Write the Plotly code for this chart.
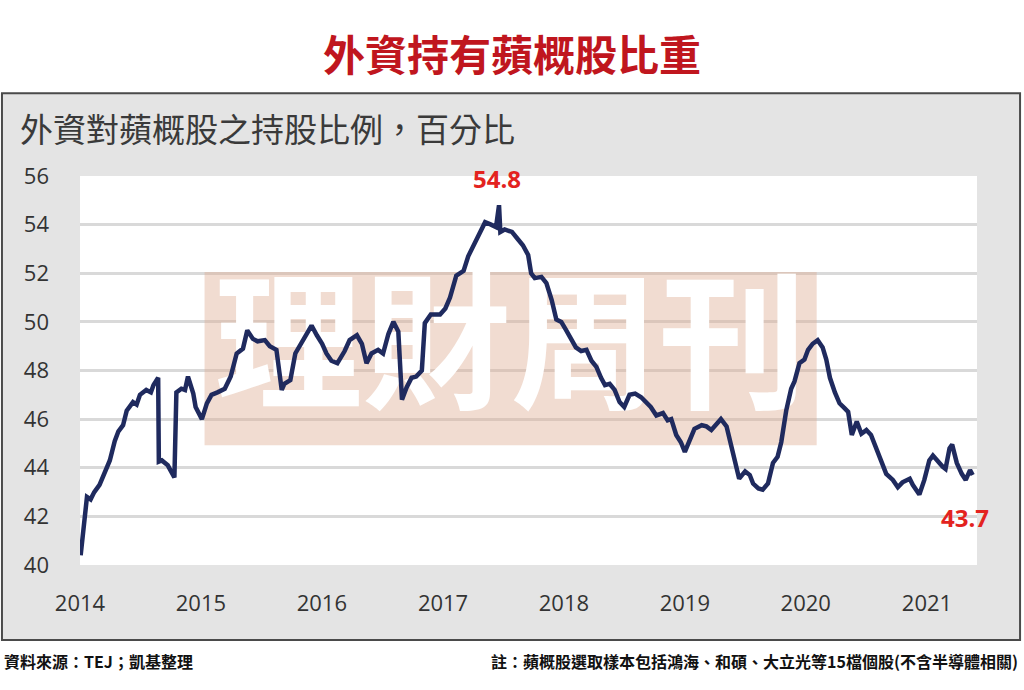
import plotly.graph_objects as go

# 外資對蘋概股之持股比例 (%)
dates = [
    "2014-01-03", "2014-01-22", "2014-02-02", "2014-02-13", "2014-03-01", "2014-03-18",
    "2014-04-01", "2014-04-16", "2014-04-27", "2014-05-11", "2014-05-22", "2014-06-10",
    "2014-06-21", "2014-07-01", "2014-07-20", "2014-08-03", "2014-08-11", "2014-08-25",
    "2014-08-27", "2014-09-05", "2014-09-23", "2014-10-13", "2014-10-19", "2014-11-03",
    "2014-11-14", "2014-11-23", "2014-12-09", "2014-12-16",
    "2015-01-04", "2015-01-19", "2015-02-02", "2015-02-20", "2015-03-14", "2015-04-01",
    "2015-04-19", "2015-05-08", "2015-05-21", "2015-06-07", "2015-06-21", "2015-07-13",
    "2015-07-28", "2015-08-17", "2015-09-02", "2015-09-10", "2015-09-28", "2015-10-13",
    "2015-10-31", "2015-11-14", "2015-12-01", "2015-12-17",
    "2016-01-02", "2016-01-15", "2016-01-30", "2016-02-17", "2016-03-10", "2016-03-25",
    "2016-04-16", "2016-05-01", "2016-05-15", "2016-05-30", "2016-06-19", "2016-07-04",
    "2016-07-20", "2016-08-04", "2016-08-19", "2016-08-30", "2016-09-13", "2016-09-28",
    "2016-10-12", "2016-10-29", "2016-11-07", "2016-11-25", "2016-12-23",
    "2017-01-08", "2017-01-22", "2017-02-10", "2017-03-04", "2017-03-18", "2017-04-06",
    "2017-04-27", "2017-05-08", "2017-05-26", "2017-06-10", "2017-06-19", "2017-06-23",
    "2017-07-06", "2017-07-28", "2017-08-15", "2017-08-30", "2017-09-15", "2017-09-24",
    "2017-10-05", "2017-10-25", "2017-11-09", "2017-11-25", "2017-12-09", "2017-12-24",
    "2018-01-08", "2018-01-22", "2018-02-06", "2018-02-22", "2018-03-10", "2018-03-25",
    "2018-04-09", "2018-04-23", "2018-05-05", "2018-05-19", "2018-06-03", "2018-06-18",
    "2018-07-02", "2018-07-18", "2018-08-04", "2018-08-22", "2018-09-06", "2018-09-20",
    "2018-10-07", "2018-10-27", "2018-11-10", "2018-11-21", "2018-12-06", "2018-12-20",
    "2019-01-01", "2019-01-12", "2019-01-30", "2019-02-21", "2019-03-07", "2019-03-22",
    "2019-04-05", "2019-04-20", "2019-05-07", "2019-05-21", "2019-06-07", "2019-06-14",
    "2019-07-02", "2019-07-16", "2019-07-26", "2019-08-11", "2019-08-24", "2019-09-09",
    "2019-09-24", "2019-10-08", "2019-10-19", "2019-11-03", "2019-11-18", "2019-11-28",
    "2019-12-13", "2019-12-28",
    "2020-01-08", "2020-01-22", "2020-02-06", "2020-02-21", "2020-03-03", "2020-03-14",
    "2020-03-29", "2020-04-12", "2020-04-27", "2020-05-08", "2020-05-19", "2020-06-03",
    "2020-06-17", "2020-07-02", "2020-07-16", "2020-08-02", "2020-08-19", "2020-08-31",
    "2020-09-20", "2020-10-05", "2020-10-19", "2020-11-10", "2020-11-19", "2020-12-09",
    "2020-12-24",
    "2021-01-08", "2021-01-19", "2021-02-03", "2021-02-17", "2021-02-26", "2021-03-10",
    "2021-03-18", "2021-04-01", "2021-04-16", "2021-04-28", "2021-05-11", "2021-05-19",
]
share = [
    40.4, 42.8, 42.7, 43.0, 43.3, 43.8,
    44.3, 45.1, 45.5, 45.75, 46.35, 46.7,
    46.6, 47.0, 47.2, 47.1, 47.4, 47.7,
    44.25, 44.3, 44.1, 43.6, 47.1, 47.25,
    47.2, 47.75, 47.05, 46.5,
    46.0, 46.65, 47.0, 47.1, 47.25, 47.75,
    48.7, 48.9, 49.65, 49.3, 49.2, 49.25,
    49.0, 48.85, 47.2, 47.45, 47.6, 48.7,
    49.1, 49.4, 49.85, 49.45,
    49.1, 48.7, 48.4, 48.3, 48.8, 49.25,
    49.45, 49.1, 48.3, 48.7, 48.85, 48.7,
    49.5, 50.0, 49.6, 46.8, 47.3, 47.7,
    47.75, 48.0, 49.95, 50.3, 50.3,
    50.55, 51.0, 51.9, 52.1, 52.7, 53.2,
    53.85, 54.1, 54.0, 53.9, 54.8, 53.7,
    53.8, 53.7, 53.4, 53.15, 52.75, 52.0,
    51.8, 51.85, 51.6, 50.9, 50.1, 50.0,
    49.65, 49.3, 48.95, 48.8, 48.85, 48.4,
    48.15, 47.7, 47.4, 47.45, 47.2, 46.7,
    46.5, 47.0, 47.05, 46.9, 46.7, 46.5,
    46.15, 46.25, 45.95, 46.0, 45.35, 45.05,
    44.65, 45.05, 45.6, 45.75, 45.7, 45.55,
    45.75, 46.0, 45.7, 44.9, 43.9, 43.55,
    43.85, 43.7, 43.35, 43.15, 43.1, 43.35,
    44.2, 44.45, 45.05, 46.35, 47.25, 47.55,
    48.3, 48.45,
    48.85, 49.1, 49.25, 48.95, 48.45, 47.7,
    47.1, 46.65, 46.45, 46.3, 45.35, 45.9,
    45.4, 45.55, 45.35, 44.8, 44.25, 43.75,
    43.5, 43.2, 43.4, 43.55, 43.3, 42.9,
    43.5,
    44.3, 44.5, 44.25, 44.05, 43.95, 44.8,
    44.95, 44.2, 43.75, 43.5, 43.9, 43.7,
]

peak_date, peak_val = "2017-06-19", 54.8
last_date, last_val = dates[-1], share[-1]

title_text = "外資持有蘋概股比重"
subtitle_text = "外資對蘋概股之持股比例，百分比"
source_text = "資料來源：TEJ；凱基整理"
note_text = "註：蘋概股選取樣本包括鴻海、和碩、大立光等15檔個股(不含半導體相關)"
watermark = "理財周刊"

cjk = "Noto Sans CJK TC"
num_font = "Open Sans"
navy = "#1f2a5e"
red = "#e3231f"

fig = go.Figure()

# watermark text sits under the line
fig.add_trace(go.Scatter(
    x=["2017-07-24"], y=[48.45], mode="text", text=[watermark],
    textfont=dict(family=cjk, size=148, color="white", weight="bold"),
    hoverinfo="skip", showlegend=False,
))

fig.add_trace(go.Scatter(
    x=dates, y=share, mode="lines",
    line=dict(color=navy, width=4.5),
    showlegend=False,
))

# gray frame and white plot panel
fig.add_shape(type="rect", xref="paper", yref="paper",
              x0=-0.087, x1=1.048, y0=-0.193, y1=1.213,
              fillcolor="#e4e4e4", line=dict(color="#4a4a4a", width=2), layer="below")
fig.add_shape(type="rect", xref="paper", yref="paper",
              x0=0, x1=1, y0=0, y1=1,
              fillcolor="white", line=dict(width=0), layer="below")
# pink watermark block
fig.add_shape(type="rect", xref="x", yref="y",
              x0="2015-01-12", x1="2020-02-03", y0=44.93, y1=52.05,
              fillcolor="rgba(222,172,146,0.42)", line=dict(width=0), layer="between")

fig.add_annotation(x=peak_date, y=peak_val, text="<b>54.8</b>", showarrow=False,
                   yanchor="bottom", yshift=8, xshift=-2,
                   font=dict(family=num_font, size=24, color=red))
fig.add_annotation(x=last_date, y=last_val, text="<b>43.7</b>", showarrow=False,
                   yanchor="top", yshift=-24, xshift=-8,
                   font=dict(family=num_font, size=24, color=red))

fig.add_annotation(xref="paper", yref="paper", x=-0.069, y=1.123,
                   xanchor="left", yanchor="middle", showarrow=False,
                   text=subtitle_text, font=dict(family=cjk, size=33, color="#3a3a3a"))
fig.add_annotation(xref="paper", yref="paper", x=-0.087, y=-0.247,
                   xanchor="left", yanchor="middle", showarrow=False,
                   text=source_text, font=dict(family=cjk, size=16, color="#111111", weight="bold"))
fig.add_annotation(xref="paper", yref="paper", x=1.048, y=-0.247,
                   xanchor="right", yanchor="middle", showarrow=False,
                   text=note_text, font=dict(family=cjk, size=16, color="#111111", weight="bold"))

fig.update_layout(
    width=1024, height=690,
    margin=dict(l=80, r=47, t=176, b=125),
    paper_bgcolor="white", plot_bgcolor="white",
    title=dict(text=title_text, x=0.5, xref="container", y=0.918, yref="container",
               xanchor="center", yanchor="middle",
               font=dict(family=cjk, size=42, color="#c0161e", weight="bold")),
    xaxis=dict(type="date", range=["2014-01-01", "2021-06-01"],
               tick0="2014-01-01", dtick="M12", tickformat="%Y",
               showgrid=False, zeroline=False, showline=False,
               ticks="", ticklabelstandoff=23,
               tickfont=dict(family=num_font, size=22, color="#333333")),
    yaxis=dict(range=[40, 56], dtick=2, showgrid=True,
               gridcolor="#d9d9d9", gridwidth=3, zeroline=False, showline=False,
               ticks="", ticklabelstandoff=30,
               tickfont=dict(family=num_font, size=22, color="#333333")),
)

# page has a default 8px body margin; drop it so the figure sits at the window corner
fig.write_html("out.html", config={"displayModeBar": False},
               post_script="document.body.style.margin='0';")
